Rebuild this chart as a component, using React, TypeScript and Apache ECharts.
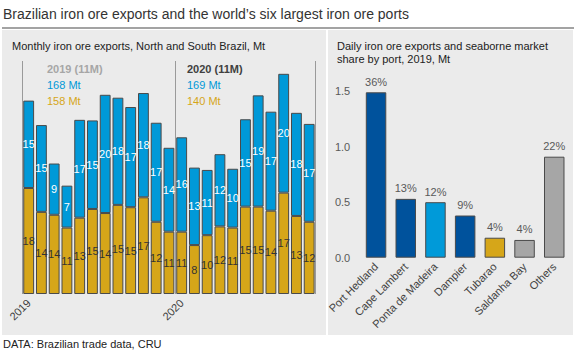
import React, { useEffect, useRef } from "react";
import * as echarts from "echarts";

const FONT = "'Liberation Sans', Arial, sans-serif";

// Left chart: monthly exports (Mt), Jan 2019 .. Nov 2020
const months = [
  "2019-01", "2019-02", "2019-03", "2019-04", "2019-05", "2019-06",
  "2019-07", "2019-08", "2019-09", "2019-10", "2019-11", "2019-12",
  "2020-01", "2020-02", "2020-03", "2020-04", "2020-05", "2020-06",
  "2020-07", "2020-08", "2020-09", "2020-10", "2020-11",
];
const southBrazil = [
  18.2, 14.1, 13.6, 11.4, 13.1, 14.6, 13.9, 15.3, 14.9, 16.6, 12.4, 10.7,
  10.7, 8.4, 10.1, 11.6, 11.4, 15.0, 15.0, 14.3, 17.4, 13.4, 12.4,
];
const northBrazil = [
  15.0, 14.9, 8.8, 7.2, 16.8, 15.2, 20.3, 18.4, 17.2, 17.9, 17.0, 14.4,
  16.2, 13.3, 11.2, 12.4, 10.1, 15.0, 19.1, 17.0, 20.4, 17.7, 16.8,
];
const yearHeaders = ["2019 (11M)", "2020 (11M)"];
const northTotals = ["168 Mt", "169 Mt"];
const southTotals = ["158 Mt", "140 Mt"];

// Right chart: daily exports by port, 2019 (Mt) and seaborne share
const ports = [
  "Port Hedland", "Cape Lambert", "Ponta de Madeira", "Dampier",
  "Tubarao", "Saldanha Bay", "Others",
];
const dailyExports = [1.49, 0.53, 0.5, 0.38, 0.18, 0.16, 0.91];
const marketShare = ["36%", "13%", "12%", "9%", "4%", "4%", "22%"];
const portColors = [
  "#00529c", "#00529c", "#009ad9", "#00529c", "#d6a619", "#a6a6a6", "#a6a6a6",
];
const rightTicks = [0, 0.5, 1.0, 1.5];

const BLUE = "#0099d8";
const GOLD = "#d6a619";

export default function App() {
  const ref = useRef<HTMLDivElement>(null);

  useEffect(() => {
    document.body.style.margin = "0";
    const chart = echarts.init(ref.current!, undefined, { renderer: "svg" });

    const leftBand = 12.75;
    const rightBand = 29.7;

    chart.setOption({
      animation: false,
      backgroundColor: "#ffffff",
      textStyle: { fontFamily: FONT },
      title: {
        text: "Brazilian iron ore exports and the world\u2019s six largest iron ore ports",
        left: 2,
        top: 6,
        padding: [1, 1, 1, 1],
        textStyle: { fontFamily: FONT, fontSize: 14, fontWeight: "normal", color: "#333333" },
      },
      graphic: [
        { type: "rect", z: -10, shape: { x: 2, y: 27, width: 572, height: 2 }, style: { fill: "#a3a3a3" } },
        { type: "rect", z: -10, shape: { x: 2, y: 30, width: 324, height: 305 }, style: { fill: "#ebebeb" } },
        { type: "rect", z: -10, shape: { x: 328, y: 30, width: 245, height: 305 }, style: { fill: "#ebebeb" } },
        {
          type: "text", x: 12, y: 40,
          style: { text: "Monthly iron ore exports, North and South Brazil, Mt", font: `11px ${FONT}`, fill: "#222222" },
        },
        {
          type: "text", x: 337, y: 40,
          style: {
            text: "Daily iron ore exports and seaborne market\nshare by port, 2019, Mt",
            font: `11px ${FONT}`, fill: "#222222", lineHeight: 12.7,
          },
        },
        { type: "text", x: 47, y: 63, style: { text: yearHeaders[0], font: `bold 11px ${FONT}`, fill: "#a6a6a6" } },
        { type: "text", x: 47, y: 79, style: { text: northTotals[0], font: `11px ${FONT}`, fill: BLUE } },
        { type: "text", x: 47, y: 95, style: { text: southTotals[0], font: `11px ${FONT}`, fill: GOLD } },
        { type: "text", x: 187, y: 63, style: { text: yearHeaders[1], font: `bold 11px ${FONT}`, fill: "#404040" } },
        { type: "text", x: 187, y: 79, style: { text: northTotals[1], font: `11px ${FONT}`, fill: BLUE } },
        { type: "text", x: 187, y: 95, style: { text: southTotals[1], font: `11px ${FONT}`, fill: GOLD } },
        {
          type: "text", x: 3, y: 338,
          style: { text: "DATA: Brazilian trade data, CRU", font: `11px ${FONT}`, fill: "#222222" },
        },
      ],
      grid: [
        { left: 22.3, top: 61, width: leftBand * months.length, height: 233 },
        { left: 361.2, top: 91.2, width: rightBand * ports.length, height: 166.5 },
      ],
      xAxis: [
        {
          type: "category",
          gridIndex: 0,
          data: months,
          axisLine: { show: false },
          axisTick: {
            show: true,
            inside: true,
            length: 233,
            interval: (i: number) => i === 0 || i === 12,
            lineStyle: { color: "#9a9a9a", width: 1 },
          },
          axisLabel: {
            interval: 0,
            rotate: 45,
            margin: 7,
            fontSize: 11,
            color: "#404040",
            fontFamily: FONT,
            formatter: (v: string) => (v.endsWith("-01") ? v.slice(0, 4) : ""),
          },
        },
        {
          type: "category",
          gridIndex: 1,
          data: ports,
          axisLine: { show: false },
          axisTick: { show: false },
          axisLabel: {
            interval: 0,
            rotate: 45,
            margin: 7,
            fontSize: 11,
            color: "#404040",
            fontFamily: FONT,
          },
        },
      ],
      yAxis: [
        { type: "value", gridIndex: 0, min: 0, max: 40, show: false, splitLine: { show: false } },
        {
          type: "value",
          gridIndex: 1,
          min: rightTicks[0],
          max: rightTicks[rightTicks.length - 1],
          interval: 0.5,
          axisLine: { show: false },
          axisTick: { show: false },
          splitLine: { show: false },
          axisLabel: {
            margin: 11,
            fontSize: 11,
            color: "#595959",
            fontFamily: FONT,
            formatter: (v: number) => v.toFixed(1),
          },
        },
      ],
      series: [
        {
          name: "South",
          type: "bar",
          xAxisIndex: 0,
          yAxisIndex: 0,
          stack: "exports",
          barCategoryGap: "15%",
          data: southBrazil,
          itemStyle: { color: GOLD, borderColor: "#4a4a4a", borderWidth: 1 },
          label: {
            show: true,
            position: "inside",
            fontSize: 11,
            fontFamily: FONT,
            color: "#333333",
            formatter: (p: any) => String(Math.round(p.value)),
          },
        },
        {
          name: "North",
          type: "bar",
          xAxisIndex: 0,
          yAxisIndex: 0,
          stack: "exports",
          barCategoryGap: "15%",
          data: northBrazil,
          itemStyle: { color: BLUE, borderColor: "#4a4a4a", borderWidth: 1 },
          label: {
            show: true,
            position: "inside",
            fontSize: 11,
            fontFamily: FONT,
            color: "#ffffff",
            formatter: (p: any) => String(Math.round(p.value)),
          },
        },
        {
          name: "Ports",
          type: "bar",
          xAxisIndex: 1,
          yAxisIndex: 1,
          barCategoryGap: "31%",
          data: dailyExports.map((v, i) => ({
            value: v,
            itemStyle: { color: portColors[i] },
          })),
          itemStyle: { borderColor: "#4a4a4a", borderWidth: 1 },
          label: {
            show: true,
            position: "top",
            distance: 5,
            fontSize: 11,
            fontFamily: FONT,
            color: "#595959",
            formatter: (p: any) => marketShare[p.dataIndex],
          },
        },
      ],
    });

    return () => chart.dispose();
  }, []);

  return <div ref={ref} style={{ width: 575, height: 352 }} />;
}
